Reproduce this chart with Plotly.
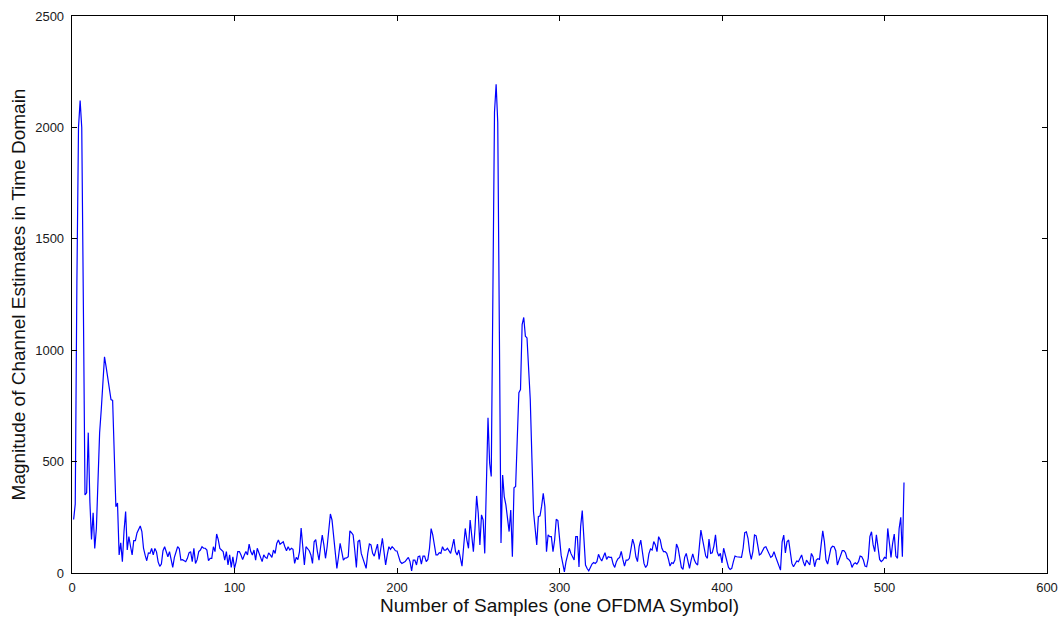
import plotly.graph_objects as go

# Magnitude of channel estimates, samples 1..512
magnitude = [
    240, 310, 1300, 2000, 2120, 2000, 1200, 350, 360, 630,
    320, 150, 270, 110, 200, 450, 630, 733, 868, 970,
    925, 868, 831, 778, 775, 494, 297, 314, 81, 135,
    51, 186, 276, 103, 163, 120, 81, 145, 145, 180,
    198, 211, 186, 112, 80, 55, 90, 88, 110, 81,
    110, 95, 50, 30, 40, 100, 118, 96, 73, 96,
    60, 25, 70, 96, 118, 110, 58, 60, 55, 51,
    66, 90, 96, 51, 111, 43, 60, 96, 103, 118,
    111, 111, 103, 55, 66, 66, 118, 96, 175, 150,
    110, 103, 96, 58, 96, 36, 81, 25, 73, 21,
    50, 96, 96, 81, 60, 80, 96, 81, 130, 96,
    81, 103, 58, 111, 90, 73, 51, 81, 70, 66,
    90, 81, 70, 103, 88, 133, 148, 129, 136, 140,
    118, 100, 118, 103, 111, 106, 43, 70, 60, 96,
    202, 126, 36, 118, 111, 100, 81, 43, 140, 150,
    96, 58, 118, 170, 126, 66, 118, 200, 265, 238,
    164, 73, 21, 73, 133, 96, 58, 67, 68, 73,
    189, 181, 171, 103, 25, 141, 148, 88, 66, 51,
    21, 88, 130, 126, 88, 76, 100, 130, 61, 106,
    156, 96, 36, 81, 118, 106, 118, 111, 100, 99,
    73, 51, 43, 46, 51, 61, 70, 51, 9, 58,
    58, 36, 73, 76, 40, 76, 76, 51, 61, 111,
    199, 171, 124, 81, 81, 91, 88, 118, 103, 103,
    111, 96, 88, 118, 152, 96, 81, 103, 73, 31,
    118, 200, 148, 111, 238, 170, 96, 200, 346, 268,
    126, 261, 238, 88, 380, 697, 494, 433, 1250, 2068,
    2194, 2023, 1080, 135, 440, 343, 306, 250, 186, 283,
    73, 382, 388, 600, 809, 823, 1115, 1147, 1063, 1055,
    920, 780, 520, 276, 200, 126, 253, 257, 300, 358,
    298, 96, 171, 163, 163, 96, 148, 241, 235, 148,
    80, 43, 5, 51, 88, 111, 88, 70, 58, 163,
    163, 27, 208, 280, 150, 36, 20, 10, 25, 40,
    47, 43, 51, 84, 66, 54, 73, 91, 61, 73,
    70, 70, 40, 25, 51, 64, 70, 97, 61, 31,
    58, 58, 66, 111, 152, 126, 73, 51, 118, 148,
    96, 43, 25, 36, 86, 108, 103, 141, 126, 96,
    163, 148, 111, 96, 96, 88, 63, 31, 46, 43,
    58, 130, 111, 76, 25, 16, 70, 88, 55, 21,
    58, 86, 58, 43, 36, 118, 193, 152, 121, 76,
    66, 152, 88, 91, 121, 171, 96, 76, 88, 45,
    111, 81, 51, 25, 16, 21, 51, 76, 73, 72,
    70, 70, 111, 181, 185, 156, 96, 61, 96, 171,
    167, 126, 81, 86, 100, 115, 118, 100, 81, 70,
    76, 96, 73, 51, 28, 13, 140, 170, 90, 140,
    148, 100, 43, 28, 43, 54, 51, 69, 81, 51,
    31, 58, 46, 36, 88, 73, 28, 58, 64, 61,
    126, 189, 141, 58, 40, 85, 111, 120, 118, 100,
    36, 58, 76, 100, 100, 91, 66, 61, 51, 25,
    40, 46, 40, 51, 76, 73, 58, 31, 28, 66,
    163, 185, 126, 96, 171, 111, 61, 51, 58, 70,
    66, 200, 141, 70, 133, 175, 76, 66, 200, 250,
    73, 406,
]
samples = list(range(1, len(magnitude) + 1))

x_ticks = [0, 100, 200, 300, 400, 500, 600]
y_ticks = [0, 500, 1000, 1500, 2000, 2500]

FONT = "Liberation Sans, Arial, sans-serif"

fig = go.Figure()
fig.add_trace(go.Scatter(
    x=samples, y=magnitude, mode="lines",
    line=dict(color="#0000ff", width=1.2),
    showlegend=False, hoverinfo="skip",
))

axis_common = dict(
    showline=True, linecolor="black", linewidth=1.3, mirror="ticks",
    ticks="inside", ticklen=5, tickcolor="black", tickwidth=1,
    showgrid=False, zeroline=False, automargin=False,
    tickfont=dict(family=FONT, size=13, color="#1a1a1a"),
)

fig.update_layout(
    width=1062, height=622,
    paper_bgcolor="white", plot_bgcolor="white",
    margin=dict(l=72, r=15, t=16, b=49),
    xaxis=dict(
        range=[0, 600], tickvals=x_ticks, ticktext=[str(v) for v in x_ticks],
        ticklabelstandoff=2,
        title=dict(text="Number of Samples (one OFDMA Symbol)",
                   font=dict(family=FONT, size=19, color="#111"),
                   standoff=2),
        **axis_common,
    ),
    yaxis=dict(
        range=[0, 2500], tickvals=y_ticks, ticktext=[str(v) for v in y_ticks],
        ticklabelstandoff=4,
        title=dict(text="Magnitude of Channel Estimates in Time Domain",
                   font=dict(family=FONT, size=19, color="#111"),
                   standoff=4),
        **axis_common,
    ),
)

fig.write_html(
    "out.html",
    config={"displayModeBar": False, "staticPlot": True},
    post_script="document.body.style.margin='0';document.body.style.overflow='hidden';",
)
